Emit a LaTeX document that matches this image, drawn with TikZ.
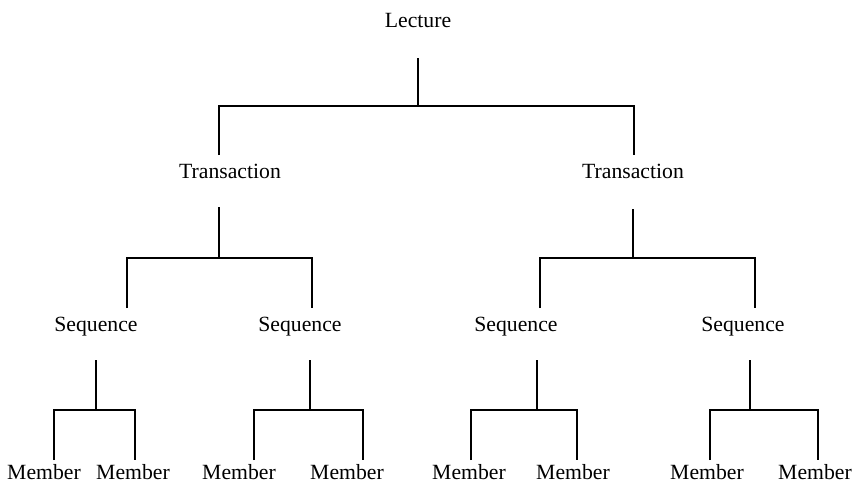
\documentclass[tikz,border=0pt]{standalone}
\usepackage{fontspec}
\setmainfont{Liberation Serif}
\begin{document}
\begin{tikzpicture}[x=1pt,y=-1pt,
  lbl/.style={anchor=base,inner sep=0pt,font=\fontsize{21.7}{26}\selectfont},
  conn/.style={line width=1.3pt,black}]
\useasboundingbox (0,0) rectangle (855,488);
% labels
\node[lbl] (lec) at (418,27) {Lecture};
\node[lbl] (t1) at (230,178) {Transaction};
\node[lbl] (t2) at (633,178) {Transaction};
\node[lbl] (s1) at (96,331) {Sequence};
\node[lbl] (s2) at (300,331) {Sequence};
\node[lbl] (s3) at (516,331) {Sequence};
\node[lbl] (s4) at (743,331) {Sequence};
\node[lbl] (m1) at (44,479) {Member};
\node[lbl] (m2) at (133,479) {Member};
\node[lbl] (m3) at (239,479) {Member};
\node[lbl] (m4) at (347,479) {Member};
\node[lbl] (m5) at (469,479) {Member};
\node[lbl] (m6) at (573,479) {Member};
\node[lbl] (m7) at (707,479) {Member};
\node[lbl] (m8) at (815,479) {Member};
% connector end points
\coordinate (lecS) at (418,58);  \coordinate (lecJ) at (418,106);
\coordinate (t1N) at (219,155);  \coordinate (t2N) at (634,155);
\coordinate (t1S) at (219,207);  \coordinate (t1J) at (219,258);
\coordinate (t2S) at (633,209);  \coordinate (t2J) at (633,258);
\coordinate (s1N) at (127,308);  \coordinate (s2N) at (312,308);
\coordinate (s3N) at (540,308);  \coordinate (s4N) at (755,308);
\coordinate (s1S) at (96,360);   \coordinate (s1J) at (96,410);
\coordinate (s2S) at (310,360);  \coordinate (s2J) at (310,410);
\coordinate (s3S) at (537,360);  \coordinate (s3J) at (537,410);
\coordinate (s4S) at (750,360);  \coordinate (s4J) at (750,410);
\coordinate (m1N) at (54,460);   \coordinate (m2N) at (135,460);
\coordinate (m3N) at (254,460);  \coordinate (m4N) at (363,460);
\coordinate (m5N) at (471,460);  \coordinate (m6N) at (577,460);
\coordinate (m7N) at (710,460);  \coordinate (m8N) at (818,460);
% connectors
\draw[conn] (lecS) -- (lecJ);
\draw[conn] (t1N) |- (lecJ) -| (t2N);
\draw[conn] (t1S) -- (t1J);
\draw[conn] (s1N) |- (t1J) -| (s2N);
\draw[conn] (t2S) -- (t2J);
\draw[conn] (s3N) |- (t2J) -| (s4N);
\draw[conn] (s1S) -- (s1J);
\draw[conn] (m1N) |- (s1J) -| (m2N);
\draw[conn] (s2S) -- (s2J);
\draw[conn] (m3N) |- (s2J) -| (m4N);
\draw[conn] (s3S) -- (s3J);
\draw[conn] (m5N) |- (s3J) -| (m6N);
\draw[conn] (s4S) -- (s4J);
\draw[conn] (m7N) |- (s4J) -| (m8N);
\end{tikzpicture}
\end{document}
